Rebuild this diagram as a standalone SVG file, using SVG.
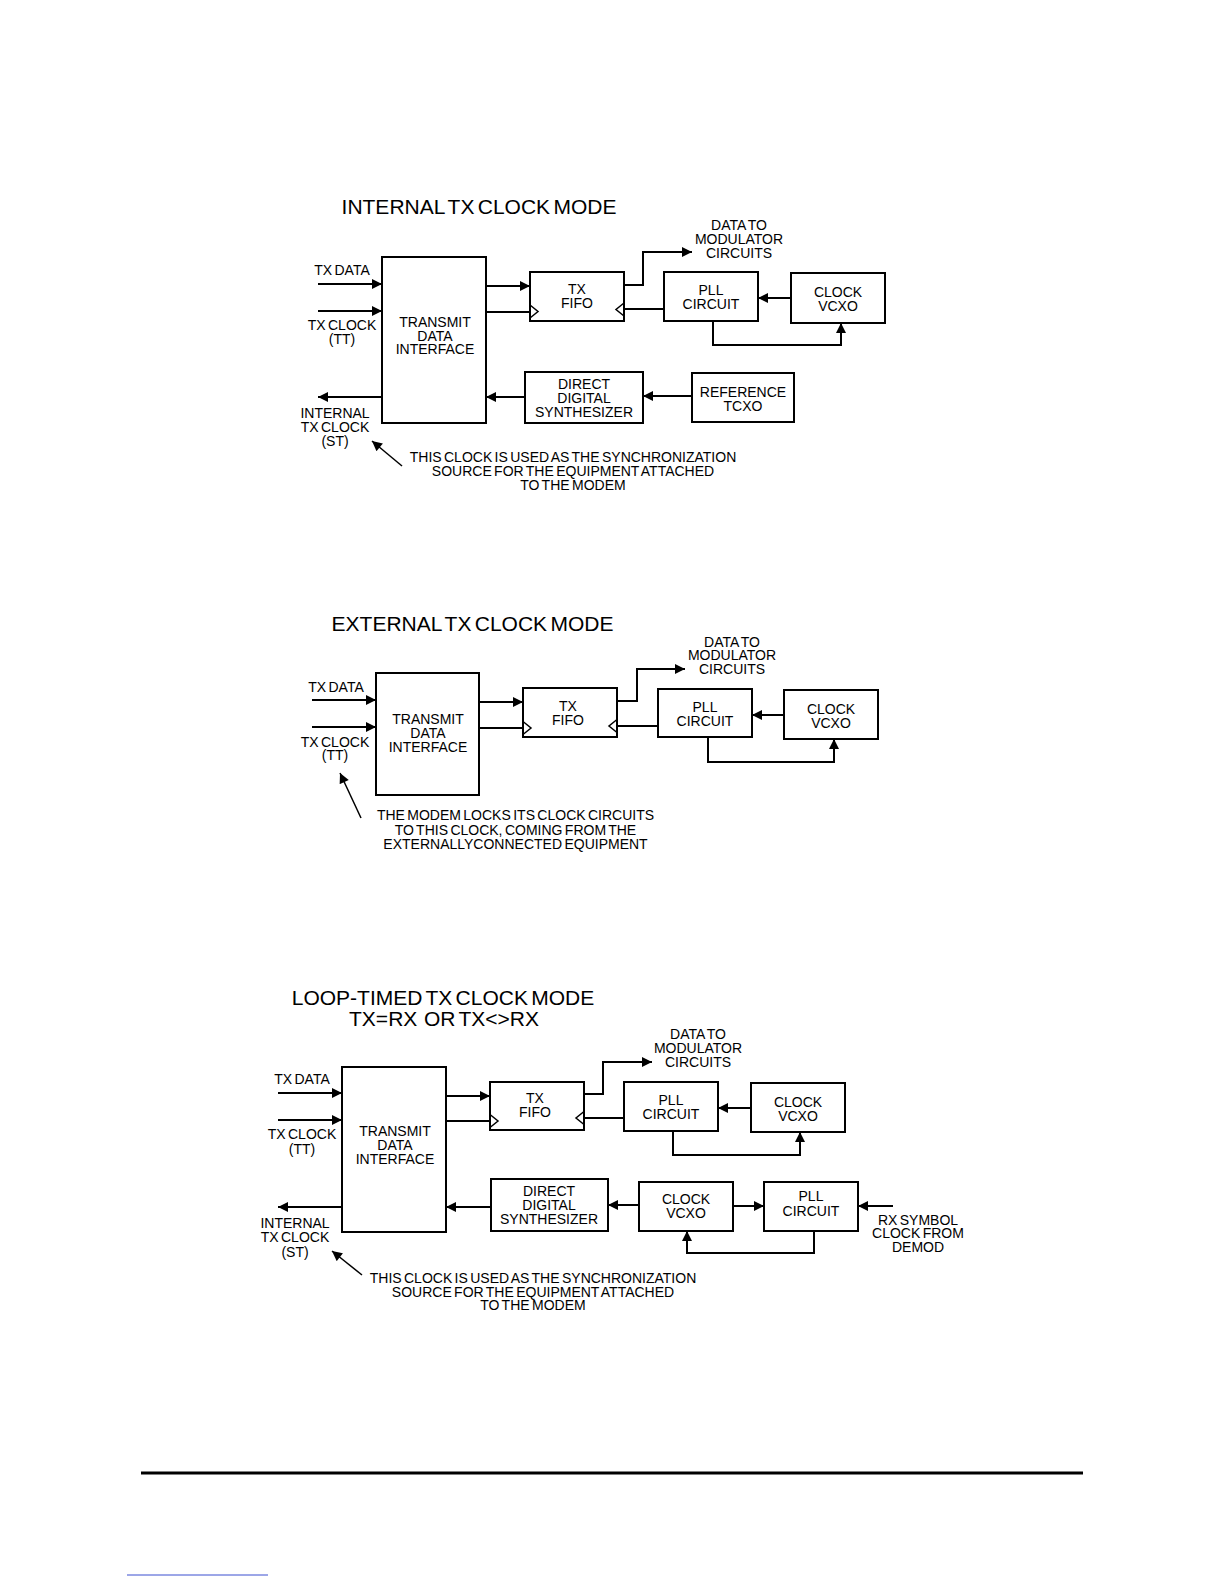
<svg xmlns="http://www.w3.org/2000/svg" width="1224" height="1584" viewBox="0 0 1224 1584">
<defs>
<marker id="ah" viewBox="0 0 10 10" refX="10" refY="5" markerWidth="11" markerHeight="10" markerUnits="userSpaceOnUse" orient="auto"><path d="M0,0 L10,5 L0,10 z" fill="#000"/></marker>
</defs>
<style>
.box{fill:#fff;stroke:#000;stroke-width:2}
.ln{fill:none;stroke:#000;stroke-width:2}
.ar{fill:none;stroke:#000;stroke-width:2;marker-end:url(#ah)}
.pt{fill:none;stroke:#000;stroke-width:1.5;marker-end:url(#ah)}
.ck{fill:none;stroke:#000;stroke-width:1.5}
text{font-family:"Liberation Sans",Arial,sans-serif;fill:#000}
.t{font-size:14px;text-anchor:middle;word-spacing:-1.5px}
.h{font-size:21px;text-anchor:middle;word-spacing:-2.5px}
</style>
<rect width="1224" height="1584" fill="#fff"/>

<!-- ===== Diagram 1: INTERNAL ===== -->
<text class="h" x="479" y="213.5">INTERNAL TX CLOCK MODE</text>
<g id="d1-tdi"><rect class="box" x="382" y="257" width="104" height="166"/><text class="t" x="435" y="327">TRANSMIT</text><text class="t" x="435" y="341">DATA</text><text class="t" x="435" y="354">INTERFACE</text></g>
<g id="d1-fifo"><rect class="box" x="530" y="272" width="94" height="49"/><text class="t" x="577" y="294">TX</text><text class="t" x="577" y="308">FIFO</text></g>
<g id="d1-pll"><rect class="box" x="664" y="272" width="94" height="49"/><text class="t" x="711" y="295">PLL</text><text class="t" x="711" y="309">CIRCUIT</text></g>
<g id="d1-vcxo"><rect class="box" x="791" y="273" width="94" height="50"/><text class="t" x="838" y="297">CLOCK</text><text class="t" x="838" y="311">VCXO</text></g>
<g id="d1-dds"><rect class="box" x="525" y="372" width="118" height="51"/><text class="t" x="584" y="389">DIRECT</text><text class="t" x="584" y="403">DIGITAL</text><text class="t" x="584" y="417">SYNTHESIZER</text></g>
<g id="d1-tcxo"><rect class="box" x="692" y="373" width="102" height="49"/><text class="t" x="743" y="397">REFERENCE</text><text class="t" x="743" y="411">TCXO</text></g>
<g id="d1-labels">
<text class="t" x="342" y="275">TX DATA</text>
<text class="t" x="342" y="330">TX CLOCK</text><text class="t" x="342" y="344">(TT)</text>
<text class="t" x="739" y="230">DATA TO</text><text class="t" x="739" y="244">MODULATOR</text><text class="t" x="739" y="258">CIRCUITS</text>
<text class="t" x="335" y="418">INTERNAL</text><text class="t" x="335" y="432">TX CLOCK</text><text class="t" x="335" y="446">(ST)</text>
<text class="t" x="573" y="462">THIS CLOCK IS USED AS THE SYNCHRONIZATION</text>
<text class="t" x="573" y="476">SOURCE FOR THE EQUIPMENT ATTACHED</text>
<text class="t" x="573" y="490">TO THE MODEM</text>
</g>
<g id="d1-connectors">
<line class="ar" x1="318" y1="284" x2="382" y2="284"/>
<line class="ar" x1="318" y1="311" x2="382" y2="311"/>
<line class="ar" x1="382" y1="397" x2="318" y2="397"/>
<line class="ar" x1="486" y1="286" x2="530" y2="286"/>
<line class="ln" x1="486" y1="312" x2="530" y2="312"/>
<polyline class="ck" points="530,305 538,311.5 530,318"/>
<polyline class="ar" points="624,285 643,285 643,252 692,252"/>
<line class="ln" x1="664" y1="309" x2="624" y2="309"/>
<polyline class="ck" points="624,303 616,309.5 624,316"/>
<line class="ar" x1="791" y1="298" x2="758" y2="298"/>
<polyline class="ar" points="713,321 713,345 841,345 841,323"/>
<line class="ar" x1="692" y1="396" x2="643" y2="396"/>
<line class="ar" x1="525" y1="397" x2="486" y2="397"/>
<line class="pt" x1="402" y1="466" x2="372" y2="441"/>
</g>

<!-- ===== Diagram 2: EXTERNAL ===== -->
<text class="h" x="472.5" y="630.5">EXTERNAL TX CLOCK MODE</text>
<g id="d2-tdi"><rect class="box" x="376" y="673" width="103" height="122"/><text class="t" x="428" y="724">TRANSMIT</text><text class="t" x="428" y="738">DATA</text><text class="t" x="428" y="752">INTERFACE</text></g>
<g id="d2-fifo"><rect class="box" x="523" y="688" width="94" height="49"/><text class="t" x="568" y="711">TX</text><text class="t" x="568" y="725">FIFO</text></g>
<g id="d2-pll"><rect class="box" x="658" y="689" width="94" height="48"/><text class="t" x="705" y="712">PLL</text><text class="t" x="705" y="726">CIRCUIT</text></g>
<g id="d2-vcxo"><rect class="box" x="784" y="690" width="94" height="49"/><text class="t" x="831" y="714">CLOCK</text><text class="t" x="831" y="728">VCXO</text></g>
<g id="d2-labels">
<text class="t" x="336" y="692">TX DATA</text>
<text class="t" x="335" y="747">TX CLOCK</text><text class="t" x="335" y="760">(TT)</text>
<text class="t" x="732" y="647">DATA TO</text><text class="t" x="732" y="660">MODULATOR</text><text class="t" x="732" y="674">CIRCUITS</text>
<text class="t" x="515.5" y="820">THE MODEM LOCKS ITS CLOCK CIRCUITS</text>
<text class="t" x="515.5" y="835">TO THIS CLOCK, COMING FROM THE</text>
<text class="t" x="515.5" y="849">EXTERNALLYCONNECTED EQUIPMENT</text>
</g>
<g id="d2-connectors">
<line class="ar" x1="312" y1="700" x2="376" y2="700"/>
<line class="ar" x1="312" y1="727" x2="376" y2="727"/>
<line class="ar" x1="479" y1="702" x2="523" y2="702"/>
<line class="ln" x1="479" y1="728" x2="523" y2="728"/>
<polyline class="ck" points="523,721.5 531,728 523,734.5"/>
<polyline class="ar" points="617,701 637,701 637,669 685,669"/>
<line class="ln" x1="658" y1="726" x2="617" y2="726"/>
<polyline class="ck" points="617,719.5 609,726 617,732.5"/>
<line class="ar" x1="784" y1="715" x2="752" y2="715"/>
<polyline class="ar" points="708,737 708,762 834,762 834,739"/>
<line class="pt" x1="361" y1="818" x2="340" y2="773"/>
</g>

<!-- ===== Diagram 3: LOOP-TIMED ===== -->
<text class="h" x="443" y="1004.5">LOOP-TIMED TX CLOCK MODE</text>
<text class="h" x="444" y="1025.5">TX=RX &#160;OR TX&lt;&gt;RX</text>
<g id="d3-tdi"><rect class="box" x="342" y="1067" width="104" height="165"/><text class="t" x="395" y="1136">TRANSMIT</text><text class="t" x="395" y="1150">DATA</text><text class="t" x="395" y="1164">INTERFACE</text></g>
<g id="d3-fifo"><rect class="box" x="490" y="1082" width="94" height="48"/><text class="t" x="535" y="1103">TX</text><text class="t" x="535" y="1117">FIFO</text></g>
<g id="d3-pll1"><rect class="box" x="624" y="1082" width="94" height="49"/><text class="t" x="671" y="1105">PLL</text><text class="t" x="671" y="1119">CIRCUIT</text></g>
<g id="d3-vcxo1"><rect class="box" x="751" y="1083" width="94" height="49"/><text class="t" x="798" y="1107">CLOCK</text><text class="t" x="798" y="1121">VCXO</text></g>
<g id="d3-dds"><rect class="box" x="491" y="1179" width="117" height="52"/><text class="t" x="549" y="1196">DIRECT</text><text class="t" x="549" y="1210">DIGITAL</text><text class="t" x="549" y="1224">SYNTHESIZER</text></g>
<g id="d3-vcxo2"><rect class="box" x="639" y="1182" width="94" height="49"/><text class="t" x="686" y="1204">CLOCK</text><text class="t" x="686" y="1218">VCXO</text></g>
<g id="d3-pll2"><rect class="box" x="764" y="1182" width="94" height="49"/><text class="t" x="811" y="1201">PLL</text><text class="t" x="811" y="1216">CIRCUIT</text></g>
<g id="d3-labels">
<text class="t" x="302" y="1084">TX DATA</text>
<text class="t" x="302" y="1139">TX CLOCK</text><text class="t" x="302" y="1154">(TT)</text>
<text class="t" x="698" y="1039">DATA TO</text><text class="t" x="698" y="1053">MODULATOR</text><text class="t" x="698" y="1067">CIRCUITS</text>
<text class="t" x="295" y="1228">INTERNAL</text><text class="t" x="295" y="1242">TX CLOCK</text><text class="t" x="295" y="1257">(ST)</text>
<text class="t" x="918" y="1225">RX SYMBOL</text><text class="t" x="918" y="1238">CLOCK FROM</text><text class="t" x="918" y="1252">DEMOD</text>
<text class="t" x="533" y="1283">THIS CLOCK IS USED AS THE SYNCHRONIZATION</text>
<text class="t" x="533" y="1297">SOURCE FOR THE EQUIPMENT ATTACHED</text>
<text class="t" x="533" y="1310">TO THE MODEM</text>
</g>
<g id="d3-connectors">
<line class="ar" x1="278" y1="1093" x2="342" y2="1093"/>
<line class="ar" x1="278" y1="1120" x2="342" y2="1120"/>
<line class="ar" x1="342" y1="1207" x2="278" y2="1207"/>
<line class="ar" x1="446" y1="1096" x2="490" y2="1096"/>
<line class="ln" x1="446" y1="1121" x2="490" y2="1121"/>
<polyline class="ck" points="490,1114.5 498,1121 490,1127.5"/>
<polyline class="ar" points="584,1094 603,1094 603,1062 652,1062"/>
<line class="ln" x1="624" y1="1118" x2="584" y2="1118"/>
<polyline class="ck" points="584,1111.5 576,1118 584,1124.5"/>
<line class="ar" x1="751" y1="1108" x2="718" y2="1108"/>
<polyline class="ar" points="673,1131 673,1155 800,1155 800,1132"/>
<line class="ar" x1="491" y1="1207" x2="446" y2="1207"/>
<line class="ar" x1="639" y1="1205" x2="608" y2="1205"/>
<line class="ar" x1="733" y1="1206" x2="764" y2="1206"/>
<line class="ar" x1="893" y1="1206" x2="858" y2="1206"/>
<polyline class="ar" points="814,1231 814,1253 687,1253 687,1231"/>
<line class="pt" x1="362" y1="1275" x2="332" y2="1251"/>
</g>

<!-- footer -->
<line x1="141" y1="1473" x2="1083" y2="1473" stroke="#000" stroke-width="3"/>
<line x1="127" y1="1575" x2="268" y2="1575" stroke="#3a4fd0" stroke-width="1"/>
</svg>
